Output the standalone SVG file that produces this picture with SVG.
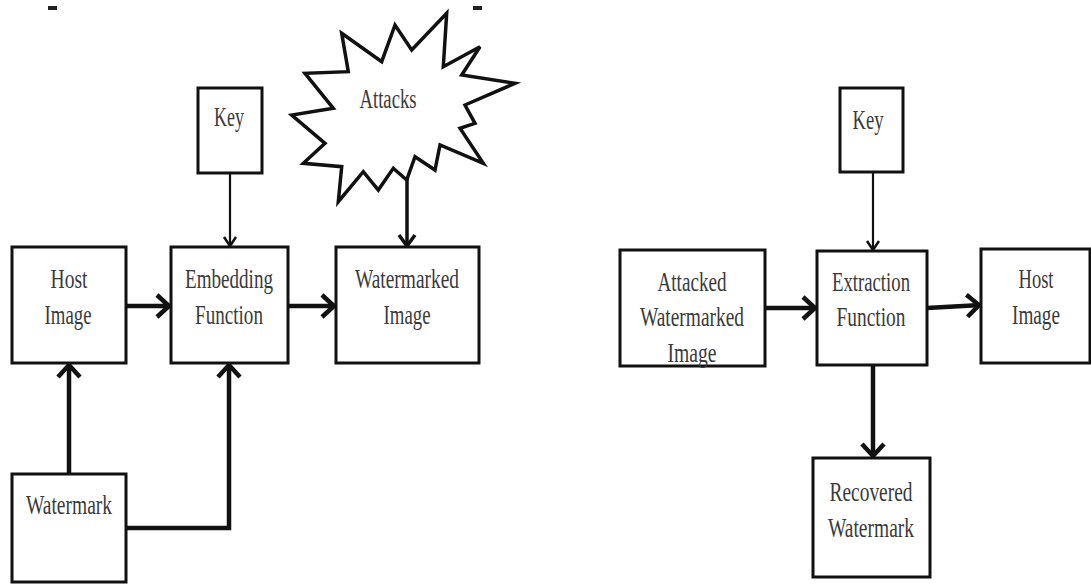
<svg xmlns="http://www.w3.org/2000/svg" width="1091" height="584" viewBox="0 0 1091 584">
<style>
.box{fill:#fff;stroke:#111;stroke-width:3}
.t{font-family:"Liberation Serif","Times New Roman",serif;font-size:28px;fill:#3a3a3a;text-anchor:middle}
.thick{fill:none;stroke:#111;stroke-width:4.5}
.mid{fill:none;stroke:#111;stroke-width:3.5}
.thin{fill:none;stroke:#111;stroke-width:2.2}
</style>
<defs>
<marker id="ah" viewBox="-18 -15 22 30" markerWidth="22" markerHeight="30" refX="0" refY="0" orient="auto" markerUnits="userSpaceOnUse">
<path d="M-14,-11 L-2,0 L-14,11" fill="none" stroke="#111" stroke-width="4.5"/>
</marker>
<marker id="ahm" viewBox="-16 -12 20 24" markerWidth="20" markerHeight="24" refX="0" refY="0" orient="auto" markerUnits="userSpaceOnUse">
<path d="M-12,-8 L-1,0 L-12,8" fill="none" stroke="#111" stroke-width="3.5"/>
</marker>
<marker id="aht" viewBox="-14 -10 18 20" markerWidth="18" markerHeight="20" refX="0" refY="0" orient="auto" markerUnits="userSpaceOnUse">
<path d="M-10,-6 L-1,0 L-10,6" fill="none" stroke="#111" stroke-width="2.5"/>
</marker>
</defs>
<rect width="1091" height="584" fill="#fff"/>
<rect x="48" y="6" width="9" height="4" fill="#222"/>
<rect x="473" y="6" width="9" height="4" fill="#222"/>

<g id="connectors">
<line class="thin" x1="230" y1="173" x2="230" y2="247" marker-end="url(#aht)"/>
<line class="mid" x1="407" y1="178" x2="407" y2="247" marker-end="url(#ahm)"/>
<line class="thick" x1="126" y1="306" x2="171" y2="306" marker-end="url(#ah)"/>
<line class="thick" x1="288" y1="306" x2="336" y2="306" marker-end="url(#ah)"/>
<line class="thick" x1="69" y1="474" x2="69" y2="363" marker-end="url(#ah)"/>
<path class="thick" d="M126,528 H229 V363" marker-end="url(#ah)"/>
<line class="thin" x1="873" y1="172" x2="873" y2="251" marker-end="url(#aht)"/>
<line class="thick" x1="765" y1="308" x2="817" y2="308" marker-end="url(#ah)"/>
<line class="thick" x1="927" y1="308" x2="981" y2="305" marker-end="url(#ah)"/>
<line class="thick" x1="873" y1="365" x2="873" y2="458" marker-end="url(#ah)"/>
</g>

<g id="key-left">
<rect class="box" x="198" y="88" width="64" height="85"/>
<text class="t" x="229" y="126" textLength="30" lengthAdjust="spacingAndGlyphs">Key</text>
</g>

<g id="attacks">
<polygon fill="#fff" stroke="#111" stroke-width="3.5" stroke-linejoin="miter" points="341.7,33.3 381.7,61.7 395,25 411.7,50 446.7,13.3 443.3,66.7 480,46.7 461.7,75 515,83.3 465,105 475,123.3 460,128.3 483.3,163.3 440,145 435,170 415,156.7 406.7,180 393.3,168.3 378.3,190 363.3,171.7 338.3,201.7 341.7,166.7 303.3,163.3 325,143.3 291.7,115 333.3,108.3 305,73.3 348.3,71.7"/>
<text class="t" x="388" y="108" textLength="57" lengthAdjust="spacingAndGlyphs">Attacks</text>
</g>

<g id="host-image-left">
<rect class="box" x="12" y="247" width="114" height="116"/>
<text class="t" x="69" y="288" textLength="37" lengthAdjust="spacingAndGlyphs">Host</text>
<text class="t" x="68" y="324" textLength="47" lengthAdjust="spacingAndGlyphs">Image</text>
</g>

<g id="embedding">
<rect class="box" x="171" y="247" width="117" height="116"/>
<text class="t" x="229" y="288" textLength="88" lengthAdjust="spacingAndGlyphs">Embedding</text>
<text class="t" x="229" y="324" textLength="68" lengthAdjust="spacingAndGlyphs">Function</text>
</g>

<g id="watermarked">
<rect class="box" x="336" y="247" width="143" height="116"/>
<text class="t" x="407" y="288" textLength="104" lengthAdjust="spacingAndGlyphs">Watermarked</text>
<text class="t" x="407" y="324" textLength="47" lengthAdjust="spacingAndGlyphs">Image</text>
</g>

<g id="watermark">
<rect class="box" x="12" y="474" width="114" height="108"/>
<text class="t" x="69" y="514" textLength="86" lengthAdjust="spacingAndGlyphs">Watermark</text>
</g>

<g id="key-right">
<rect class="box" x="840" y="88" width="63" height="84"/>
<text class="t" x="868" y="129" textLength="31" lengthAdjust="spacingAndGlyphs">Key</text>
</g>

<g id="attacked">
<rect class="box" x="620" y="250" width="145" height="116"/>
<text class="t" x="692" y="291" textLength="69" lengthAdjust="spacingAndGlyphs">Attacked</text>
<text class="t" x="692" y="326" textLength="104" lengthAdjust="spacingAndGlyphs">Watermarked</text>
<text class="t" x="692" y="362" textLength="49" lengthAdjust="spacingAndGlyphs">Image</text>
</g>

<g id="extraction">
<rect class="box" x="817" y="251" width="110" height="114"/>
<text class="t" x="871" y="291" textLength="78" lengthAdjust="spacingAndGlyphs">Extraction</text>
<text class="t" x="871" y="326" textLength="69" lengthAdjust="spacingAndGlyphs">Function</text>
</g>

<g id="host-image-right">
<rect class="box" x="981" y="249" width="109" height="114"/>
<text class="t" x="1036" y="288" textLength="35" lengthAdjust="spacingAndGlyphs">Host</text>
<text class="t" x="1036" y="324" textLength="48" lengthAdjust="spacingAndGlyphs">Image</text>
</g>

<g id="recovered">
<rect class="box" x="813" y="458" width="117" height="119"/>
<text class="t" x="871" y="501" textLength="83" lengthAdjust="spacingAndGlyphs">Recovered</text>
<text class="t" x="871" y="537" textLength="86" lengthAdjust="spacingAndGlyphs">Watermark</text>
</g>
</svg>
